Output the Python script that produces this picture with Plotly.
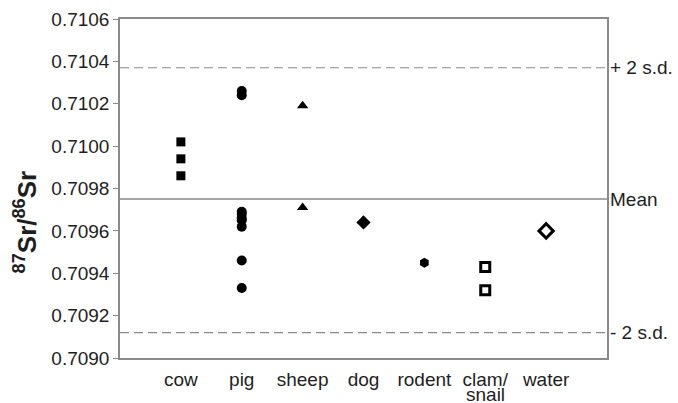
import plotly.graph_objects as go

categories = ["cow", "pig", "sheep", "dog", "rodent", "clam/<br>snail", "water"]

cow = [0.71002, 0.70994, 0.70986]
pig = [0.71026, 0.71024, 0.70969, 0.70968, 0.70966, 0.70965, 0.70962, 0.70946, 0.70933]
sheep = [0.71019, 0.70971]
dog = [0.70964]
rodent = [0.70945]
clam_snail = [0.70943, 0.70932]
water = [0.70960]

mean_val = 0.70975
plus_2sd = 0.71037
minus_2sd = 0.70912

y_ticks = [0.7090, 0.7092, 0.7094, 0.7096, 0.7098, 0.7100, 0.7102, 0.7104, 0.7106]

series = [
    (1, cow, dict(symbol="square", size=9, color="black")),
    (2, pig, dict(symbol="circle", size=10, color="black")),
    (3, sheep, dict(symbol="triangle-up", size=10, color="black")),
    (4, dog, dict(symbol="diamond", size=11, color="black")),
    (5, rodent, dict(symbol="hexagon", size=10, color="black")),
    (6, clam_snail, dict(symbol="square", size=9, color="white", line=dict(color="black", width=3))),
    (7, water, dict(symbol="diamond", size=11, color="white", line=dict(color="black", width=3))),
]

fig = go.Figure()
for xpos, vals, mk in series:
    fig.add_trace(go.Scatter(x=[xpos] * len(vals), y=vals, mode="markers",
                             marker=mk, showlegend=False))

line_col = "#8a8a8a"
txt_col = "#1e1e1e"
fig.add_hline(y=mean_val, line=dict(color=line_col, width=1.5))
fig.add_hline(y=plus_2sd, line=dict(color=line_col, width=1.2, dash="9px,5px"))
fig.add_hline(y=minus_2sd, line=dict(color=line_col, width=1.2, dash="9px,5px"))

for yv, txt in [(plus_2sd, "+ 2 s.d."), (mean_val, "Mean"), (minus_2sd, "- 2 s.d.")]:
    fig.add_annotation(x=1.0, xref="paper", y=yv, yref="y", text=txt, showarrow=False,
                       xanchor="left", xshift=1, font=dict(size=19, color=txt_col))

fig.add_annotation(x=-0.195, xref="paper", y=0.40, yref="paper",
                   text="<b><sup>87</sup>Sr/<sup>86</sup>Sr</b>", textangle=-90,
                   showarrow=False, xanchor="center", yanchor="middle",
                   font=dict(size=26, color=txt_col))

# tick labels: first line on the axis, wrapped second line as a tighter annotation
tick_first = [c.split("<br>")[0] for c in categories]
for i, c in enumerate(categories):
    parts = c.split("<br>")
    if len(parts) > 1:
        fig.add_annotation(x=i + 1, xref="x", y=0, yref="paper", text=parts[1],
                           showarrow=False, yanchor="bottom", yshift=-48,
                           borderpad=0, font=dict(size=19, color=txt_col))

fig.update_layout(
    width=678, height=403,
    margin=dict(l=120, r=71, t=19, b=45),
    plot_bgcolor="white", paper_bgcolor="white",
    font=dict(family="Liberation Sans, Arial, sans-serif", color=txt_col, size=19),
)
fig.update_xaxes(range=[0, 8], tickvals=list(range(1, 8)), ticktext=tick_first,
                 showgrid=False, zeroline=False, showline=True, linecolor=line_col,
                 linewidth=1.5, mirror=True, ticks="outside", ticklen=3,
                 tickcolor="rgba(0,0,0,0)", tickfont=dict(size=19, color=txt_col),
                 automargin=False)
fig.update_yaxes(range=[0.7090, 0.7106], tickvals=y_ticks,
                 ticktext=[f"{v:.4f}" for v in y_ticks],
                 showgrid=False, zeroline=False, showline=True, linecolor=line_col,
                 linewidth=1.5, mirror=True, ticks="outside", ticklen=5,
                 tickcolor=line_col, tickfont=dict(size=19, color=txt_col),
                 automargin=False)

fig.write_html("out.html")
